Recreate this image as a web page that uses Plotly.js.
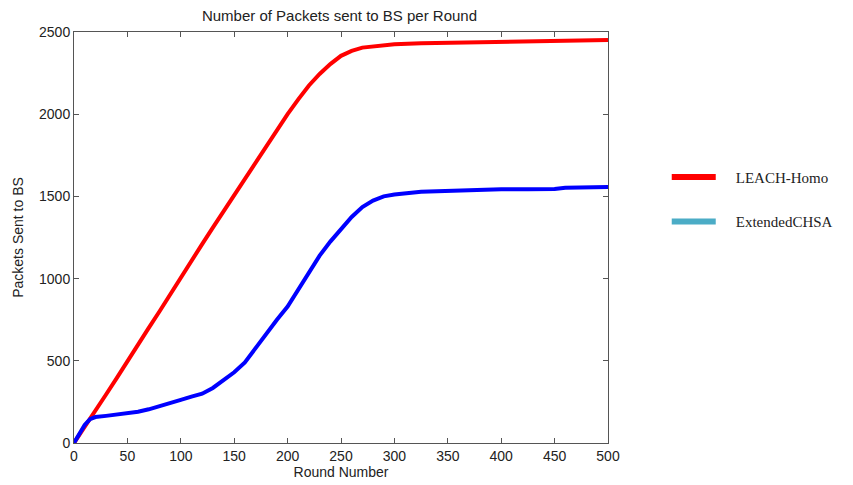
<!DOCTYPE html>
<html>
<head>
<meta charset="utf-8">
<script src="https://cdn.plot.ly/plotly-3.0.1.min.js"></script>
<style>html,body{margin:0;padding:0;background:#fff;}#chart{width:853px;height:485px;}</style>
</head>
<body>
<div id="chart"></div>
<script>
const seriesNames = ["LEACH-Homo", "ExtendedCHSA"];
const rounds = [0,5,10,15,20,30,40,50,60,70,80,90,100,110,120,130,140,150,160,170,180,190,200,210,220,230,240,250,260,270,280,290,300,325,350,375,400,425,450,460,475,500];
const leachHomo = [0,48,95,145,195,295,395,500,595,700,800,905,1005,1105,1210,1310,1410,1510,1610,1710,1805,1905,2000,2090,2175,2245,2305,2355,2385,2405,2413,2420,2425,2432,2435,2436,2437,2442,2443,2444,2445,2451];
const extendedCHSA = [0,55,110,145,158,165,172,180,190,205,222,240,262,282,300,335,380,430,490,580,670,750,830,935,1040,1140,1225,1300,1375,1435,1475,1500,1512,1528,1535,1540,1543,1544,1545,1553,1555,1557];
const xTicks = [0,50,100,150,200,250,300,350,400,450,500];
const yTicks = [0,500,1000,1500,2000,2500];
const lineColors = ["#ff0000", "#0000ff"];
const legendColors = ["#ff0000", "#4bacc6"];
const pad = "\u00a0\u00a0\u00a0\u00a0";

const traces = [
  {x: rounds, y: leachHomo, mode: "lines", line: {color: lineColors[0], width: 4}, showlegend: false, hoverinfo: "skip"},
  {x: rounds, y: extendedCHSA, mode: "lines", line: {color: lineColors[1], width: 4}, showlegend: false, hoverinfo: "skip"},
  {x: [null], y: [null], mode: "lines", name: pad + seriesNames[0], legendgroup: "a", line: {color: legendColors[0], width: 6}},
  {x: [null], y: [null], mode: "lines", name: pad + seriesNames[1], legendgroup: "b", line: {color: legendColors[1], width: 6}}
];

const fontSans = "Arial, Liberation Sans, sans-serif";
const axisCommon = {
  showline: true, mirror: "ticks", linecolor: "#555", linewidth: 1,
  ticks: "inside", ticklen: 5, tickcolor: "#555", showgrid: false, zeroline: false,
  tickfont: {family: fontSans, size: 14, color: "#222"}
};

const layout = {
  width: 853, height: 485,
  margin: {l: 74, r: 245, t: 32, b: 42},
  paper_bgcolor: "#fff", plot_bgcolor: "#fff",
  title: {text: "Number of Packets sent to BS per Round", x: 0.398, xanchor: "center", y: 0.968, yanchor: "middle",
          font: {family: fontSans, size: 15, color: "#222"}},
  xaxis: Object.assign({}, axisCommon, {range: [0, 500], tickvals: xTicks, ticktext: xTicks.map(String),
          title: {text: "Round Number", standoff: 3, font: {family: fontSans, size: 14, color: "#222"}}}),
  yaxis: Object.assign({}, axisCommon, {range: [0, 2500], tickvals: yTicks, ticktext: yTicks.map(String),
          title: {text: "Packets Sent to BS", standoff: 12, font: {family: fontSans, size: 14, color: "#222"}}}),
  showlegend: true,
  legend: {x: 1.11, xanchor: "left", y: 0.687, yanchor: "top", tracegroupgap: 22, itemwidth: 44,
           font: {family: "Liberation Serif, Times New Roman, serif", size: 15, color: "#222"},
           bgcolor: "rgba(0,0,0,0)"}
};

Plotly.newPlot("chart", traces, layout, {staticPlot: true, displayModeBar: false});
</script>
</body>
</html>
